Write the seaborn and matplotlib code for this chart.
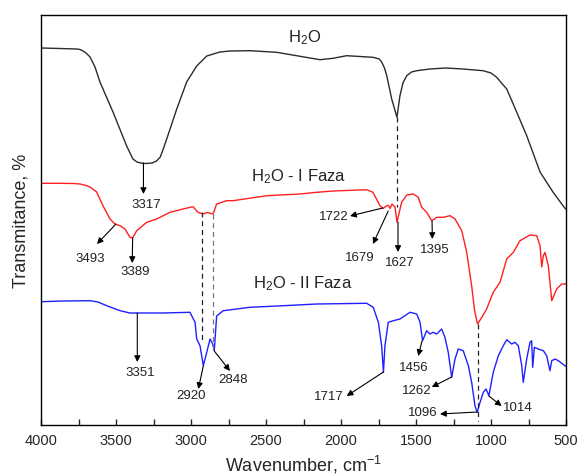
import matplotlib
matplotlib.use("Agg")
import matplotlib.pyplot as plt
import pandas as pd
import seaborn as sns

# FTIR spectra (wavenumber in cm-1, transmittance in arbitrary offset units)
h2o_wn = [4000, 4000, 3873, 3762, 3740, 3720, 3700, 3673, 3640, 3607, 3520, 3429, 3387, 3360,
          3335, 3300, 3260, 3230, 3205, 3185, 3162, 3095, 3029, 2962, 2895, 2807, 2740, 2607,
          2429, 2273, 2140, 2053, 1962, 1787, 1745, 1729, 1710, 1695, 1662, 1627, 1607, 1587,
          1562, 1530, 1495, 1407, 1300, 1187, 1053, 1000, 962, 930, 895, 829, 762, 673, 587,
          520, 502]
h2o_t = [0, 377, 376.5, 376, 375.5, 374, 372, 368, 358, 343, 313, 279, 266, 263,
         262, 261.5, 262, 264, 268, 276, 286, 316, 343, 359, 369, 373, 374, 374.3,
         372.7, 368.7, 365.3, 366.7, 369.3, 367.7, 366, 363, 357, 349.3, 326, 307.7, 329.3, 342,
         349.3, 353, 354.3, 356, 357, 356, 354.3, 352, 347.7, 342, 336, 313, 289.3, 253, 233,
         219.3, 216]

faza1_wn = [4000, 4000, 3873, 3780, 3740, 3700, 3673, 3629, 3587, 3540, 3507, 3473, 3440, 3407,
            3389, 3362, 3295, 3229, 3140, 3053, 2987, 2953, 2920, 2893, 2853, 2829, 2762, 2720,
            2495, 2273, 2162, 2053, 1829, 1787, 1740, 1720, 1695, 1683, 1673, 1660, 1640,
            1627, 1596, 1562, 1518, 1485, 1462, 1429, 1395, 1362, 1318, 1273, 1240, 1195,
            1162, 1129, 1110, 1090, 1060, 1029, 985, 940, 895, 851, 807, 740, 695, 673,
            662, 651, 640, 618, 595, 562, 529, 502]
faza1_t = [0, 241.7, 241.7, 241.5, 241, 239.5, 238, 233, 219.3, 206, 201, 199.3, 196, 187.7,
           187, 194.3, 202.7, 206, 212.7, 216, 218.3, 212.7, 211, 212.5, 211, 221, 224.3, 224.3,
           229.3, 231, 232.7, 234, 235.3, 232.7, 219.3, 216.5, 219.3, 219.5, 216.5, 221, 218,
           202.7, 222.7, 230, 231, 227.7, 217.7, 212.7, 204.3, 207.7, 207.7, 209.3, 206, 194.3,
           172.7, 139.3, 115, 101, 108, 116, 132.7, 142.7, 166, 172.7, 184.3, 190, 189.3, 179.3,
           158, 169.3, 172.7, 159.3, 124.3, 136, 141, 141]

faza2_wn = [4000, 4000, 3851, 3673, 3620, 3562, 3473, 3407, 3185, 3007, 2973, 2962, 2940,
            2918, 2895, 2873, 2855, 2845, 2829, 2785, 2607, 2385, 2162, 1829, 1785, 1751,
            1729, 1717, 1707, 1685, 1651, 1607, 1540, 1495, 1473, 1456, 1429, 1407, 1385,
            1362, 1329, 1307, 1285, 1262, 1240, 1218, 1185, 1151, 1129, 1107, 1092, 1073,
            1051, 1033, 1014, 985, 951, 918, 895, 862, 840, 818, 795, 785, 762, 740, 729,
            722, 711, 685, 651, 629, 607, 595, 573, 551, 502]
faza2_t = [0, 123.3, 124, 124.3, 123, 119.3, 114.3, 112, 112, 112.7, 102.7, 86, 79.3,
           59.3, 72.7, 86, 81, 74.3, 109, 114.3, 117.7, 119.3, 121, 121.7, 117.7, 102.7,
           79.3, 52.7, 79.3, 102.7, 104.3, 106, 112.7, 111, 102.7, 84.3, 94.3, 91, 92.7,
           91, 96, 87.7, 72.7, 47.7, 66, 76, 74.3, 59.3, 42.7, 19.3, 12.7, 22.7,
           32.7, 36, 29.3, 52.7, 69.3, 79.3, 85.3, 81, 82.7, 79.3, 59.3, 42.7, 66, 82.7, 84.3,
           57.7, 77.7, 76, 74.3, 69.3, 54.3, 64.3, 66, 64.3, 58.7]

series_names = ["H2O", "H2O - I Faza", "H2O - II Faza"]
series_colors = ["#2b2b2b", "#ff2020", "#1f1fff"]

# peak labels: (label, peak (wn, T), arrow tip (wn, T), text centre (wn, T))
peak_labels = [
    ("3317", (3317, 262), (3317, 231), (3295, 221)),
    ("3493", (3500, 201), (3627, 181), (3673, 167)),
    ("3389", (3389, 187), (3392, 162), (3373, 154)),
    ("1722", (1722, 217), (1940, 209), (2050, 209)),
    ("1679", (1685, 214), (1787, 181), (1873, 168)),
    ("1627", (1620, 203), (1620, 173), (1607, 163)),
    ("1395", (1393, 204), (1391, 186), (1373, 176)),
    ("3351", (3358, 112), (3358, 63), (3340, 53)),
    ("2920", (2918, 59), (2951, 36), (2998, 30)),
    ("2848", (2845, 74), (2740, 54), (2718, 46)),
    ("1717", (1717, 53), (1962, 29), (2080, 29)),
    ("1456", (1460, 84), (1485, 69), (1518, 58)),
    ("1262", (1262, 48), (1395, 38), (1495, 35)),
    ("1096", (1092, 13), (1340, 11), (1455, 13)),
    ("1014", (1014, 29), (929, 19), (818, 18)),
]

# vertical dashed guides: (wn, T from, T to, colour)
guides = [
    (1627, 307.7, 218, "#222222"),
    (2925, 213, 83, "#222222"),
    (2855, 211, 76, "#777777"),
    (1085, 101, 4, "#222222"),
]

curve_titles = [
    ("H$_2$O", 2240, 388),
    ("H$_2$O - I Faza", 2280, 249),
    ("H$_2$O - II Faza", 2253, 142),
]

frames = []
for name, wn, t in zip(series_names, [h2o_wn, faza1_wn, faza2_wn], [h2o_t, faza1_t, faza2_t]):
    frames.append(pd.DataFrame({"wavenumber": wn, "transmittance": t, "series": name}))
spectra = pd.concat(frames, ignore_index=True)

sns.set_theme(style="ticks")
plt.rcParams["font.family"] = ["Liberation Sans", "DejaVu Sans"]
plt.rcParams["mathtext.default"] = "regular"

fig = plt.figure(figsize=(5.79, 4.77), dpi=100)
ax = fig.add_axes([41 / 579, 51 / 477, 525 / 579, 410 / 477])

sns.lineplot(
    data=spectra, x="wavenumber", y="transmittance", hue="series",
    palette=dict(zip(series_names, series_colors)), sort=False, estimator=None,
    legend=False, linewidth=1.0, ax=ax,
)

for wn, t0, t1, color in guides:
    ax.plot([wn, wn], [t0, t1], color=color, linestyle=(0, (4, 3)), linewidth=0.9)

for label, peak, tip, pos in peak_labels:
    ax.annotate("", xy=tip, xytext=peak,
                arrowprops=dict(arrowstyle="-|>", color="black", lw=0.8,
                                mutation_scale=9, shrinkA=0, shrinkB=0))
    ax.text(pos[0], pos[1], label, ha="center", va="center", fontsize=9.5, color="#222222")

for title, wn, t in curve_titles:
    ax.text(wn, t, title, ha="center", va="center", fontsize=12, color="#222222")

ax.set_xlim(4000, 500)
ax.set_ylim(0, 410)
ax.set_xticks([4000, 3500, 3000, 2500, 2000, 1500, 1000, 500])
ax.set_xticks([3750, 3250, 2750, 2250, 1750, 1250, 750], minor=True)
ax.set_yticks([])
ax.tick_params(axis="x", which="major", direction="in", length=4, width=1, labelsize=10.5, pad=6)
ax.tick_params(axis="x", which="minor", direction="in", length=4, width=1)
for spine in ax.spines.values():
    spine.set_visible(True)
    spine.set_color("black")
    spine.set_linewidth(1.0)
ax.set_xlabel("Wavenumber, cm$^{-1}$", fontsize=13, labelpad=4)
ax.set_ylabel("Transmitance, %", fontsize=13, labelpad=8)

fig.savefig("out.png", dpi=100)
plt.close(fig)
